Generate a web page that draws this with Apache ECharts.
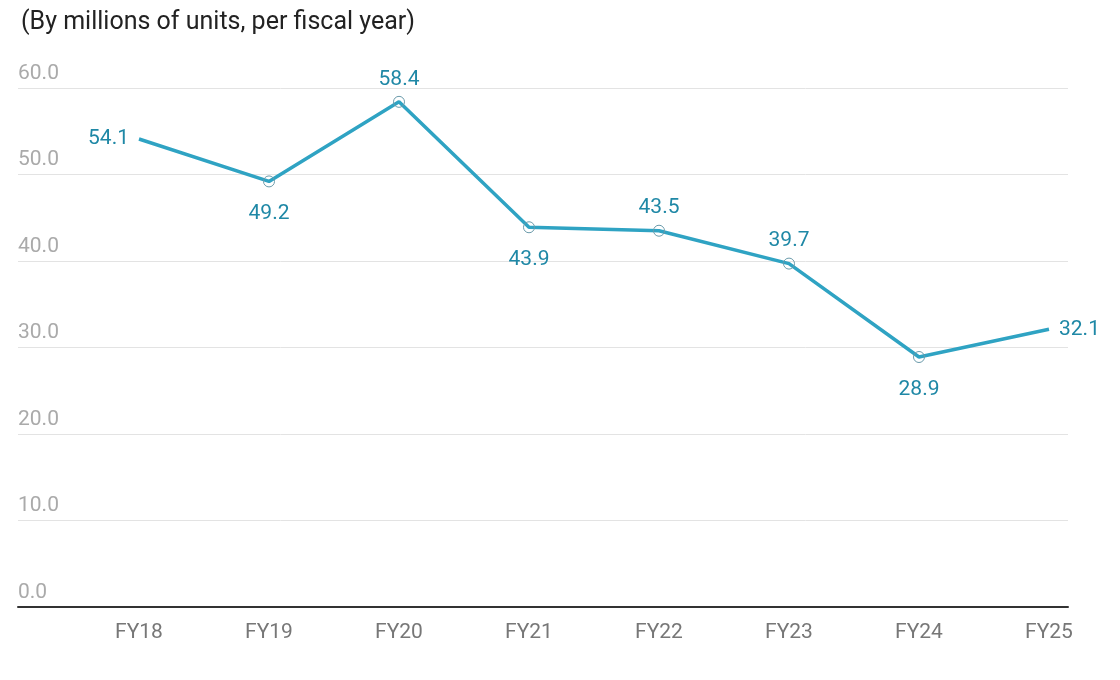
<!DOCTYPE html>
<html>
<head>
<meta charset="utf-8">
<script src="https://cdn.jsdelivr.net/npm/echarts@6/dist/echarts.min.js"></script>
<style>
  html, body { margin: 0; padding: 0; background: #fff; }
  #main { width: 1120px; height: 680px; }
</style>
</head>
<body>
<div id="main"></div>
<script type="text/javascript">
var years = ['FY18', 'FY19', 'FY20', 'FY21', 'FY22', 'FY23', 'FY24', 'FY25'];
var units = [54.1, 49.2, 58.4, 43.9, 43.5, 39.7, 28.9, 32.1];
var labelPos = ['left', 'bottom', 'top', 'bottom', 'top', 'top', 'bottom', 'right'];

var myChart = echarts.init(document.getElementById('main'));

// gap between point and its label, by side
var gap = { left: 4, right: 4, top: 6, bottom: 16 };

var points = [];
for (let i = 0; i < units.length; i++) {
    var p = { value: units[i], label: { position: labelPos[i], distance: gap[labelPos[i]] } };
    // ends of the line have no visible marker
    if (i === 0 || i === units.length - 1) p.itemStyle = { borderColor: 'rgba(0,0,0,0)' };
    points.push(p);
}

var option = {
    animation: false,
    textStyle: { fontFamily: 'Roboto, sans-serif' },
    title: {
        text: '(By millions of units, per fiscal year)',
        left: 16,
        top: 5,
        textStyle: { fontSize: 25, fontWeight: 'normal', color: '#222' }
    },
    grid: [
        { left: 18, right: 52, top: 88, bottom: 73 },
        { left: 139, right: 71, top: 88, bottom: 73 }
    ],
    xAxis: [
        {
            gridIndex: 0, type: 'category', data: years,
            axisLine: { lineStyle: { color: '#333', width: 2 } },
            axisTick: { show: false },
            axisLabel: { show: false }
        },
        {
            gridIndex: 1, type: 'category', data: years, boundaryGap: false,
            axisLine: { show: false },
            axisTick: { show: false },
            axisLabel: { color: '#777', fontSize: 21, margin: 15 }
        }
    ],
    yAxis: [
        {
            gridIndex: 0, type: 'value', min: 0, max: 60, interval: 10,
            axisLine: { show: false },
            axisTick: { show: false },
            splitLine: { lineStyle: { color: '#e3e3e3', width: 1 } },
            axisLabel: {
                inside: true, align: 'left', verticalAlign: 'bottom',
                margin: 0, padding: [0, 0, 4, 0],
                color: '#aaa', fontSize: 21,
                formatter: function (v) { return v.toFixed(1); }
            }
        },
        {
            gridIndex: 1, type: 'value', min: 0, max: 60, interval: 10,
            show: false
        }
    ],
    series: [
        {
            type: 'line',
            xAxisIndex: 1,
            yAxisIndex: 1,
            data: points,
            symbol: 'circle',
            symbolSize: 11,
            lineStyle: { color: '#2fa3c3', width: 3.5 },
            itemStyle: { color: 'rgba(0,0,0,0)', borderColor: '#6a9aaa', borderWidth: 1 },
            label: {
                show: true,
                color: '#1f88a6',
                fontSize: 21,
                formatter: function (p) { return p.value.toFixed(1); }
            }
        }
    ]
};
myChart.setOption(option);
</script>
</body>
</html>
